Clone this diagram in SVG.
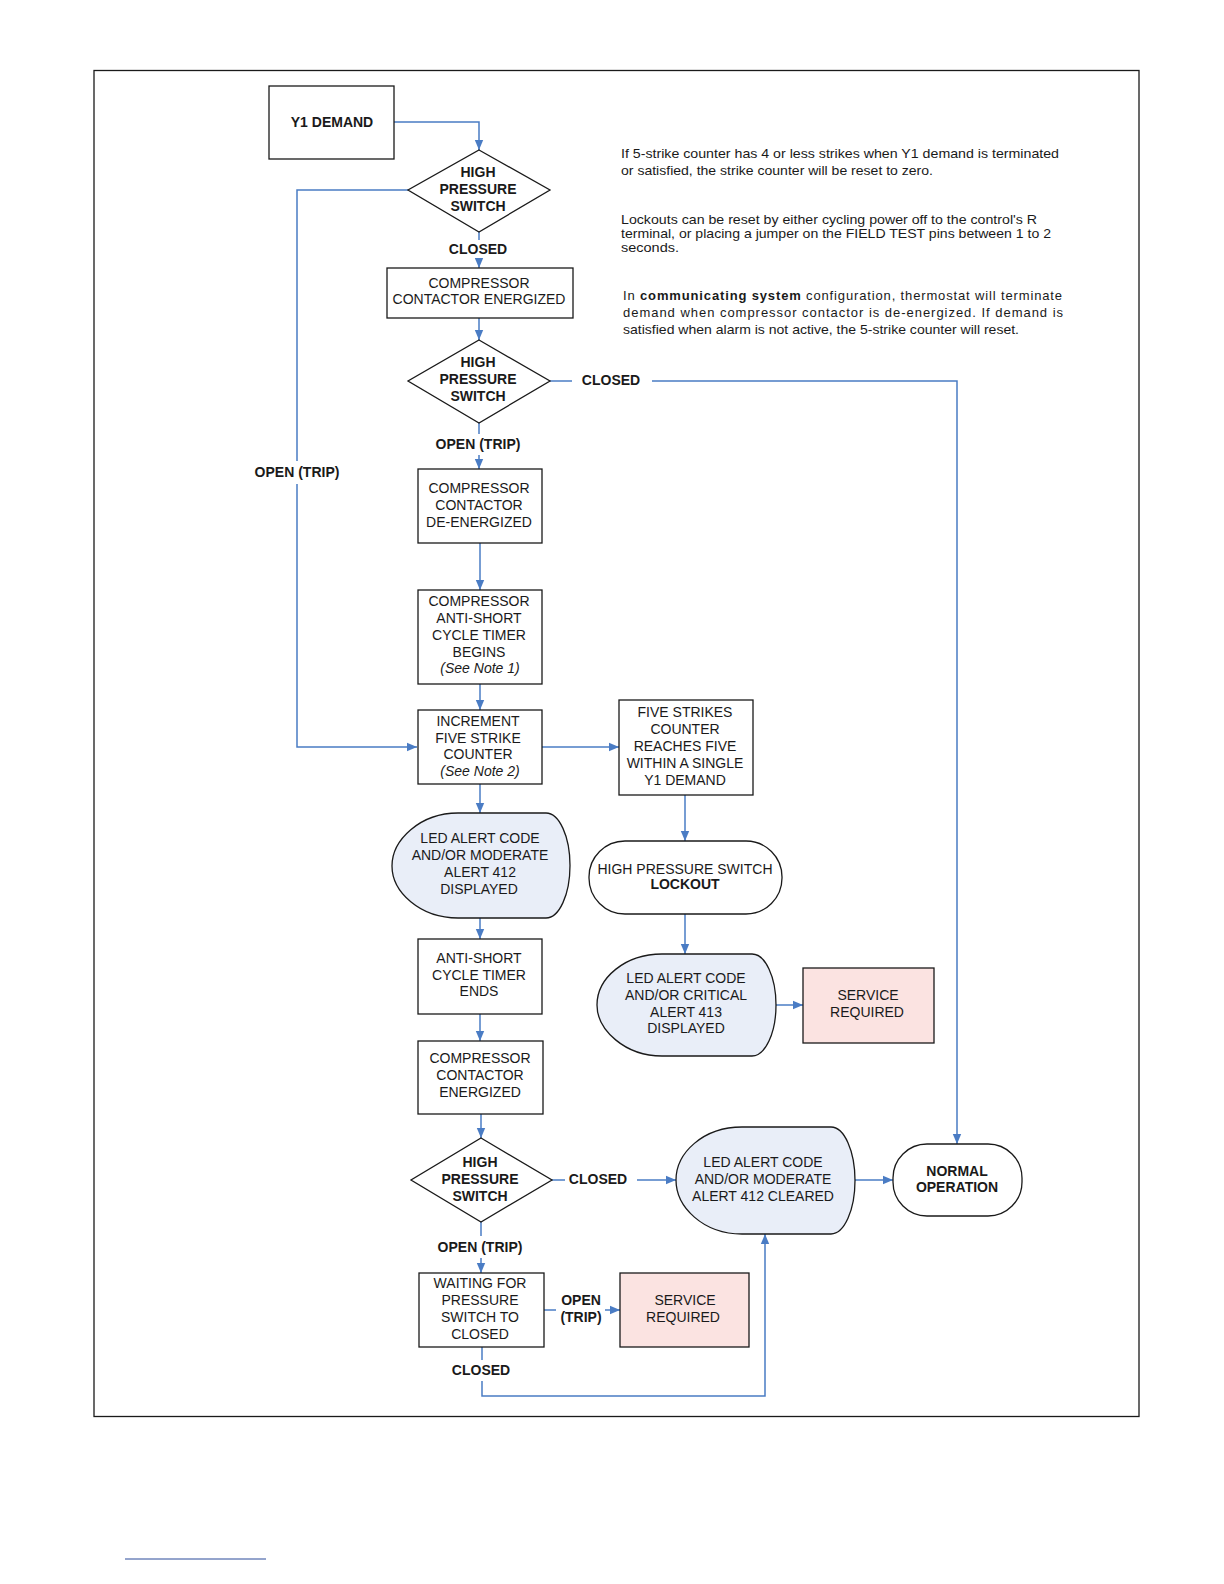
<svg xmlns="http://www.w3.org/2000/svg" width="1224" height="1584" viewBox="0 0 1224 1584">
<defs>
<marker id="ah" markerUnits="userSpaceOnUse" markerWidth="10" markerHeight="10" viewBox="0 0 10 10" refX="10" refY="5" orient="auto">
<path d="M0,0.8 L10,5 L0,9.2 Z" fill="#4a7cc4"/>
</marker>
<style>
.box{fill:#fff;stroke:#1a1a1a;stroke-width:1.3}
.disp{fill:#e9eef8;stroke:#1a1a1a;stroke-width:1.3}
.svc{fill:#fbe3e1;stroke:#1a1a1a;stroke-width:1.3}
.c{fill:none;stroke:#4a7cc4;stroke-width:1.5}
.ca{fill:none;stroke:#4a7cc4;stroke-width:1.5;marker-end:url(#ah)}
text{font-family:"Liberation Sans",Arial,sans-serif;font-size:14px;fill:#1a1a1a;text-anchor:middle}
.b{font-weight:bold}
.i{font-style:italic}
.n{font-size:13px;text-anchor:start}
</style>
</defs>
<rect width="1224" height="1584" fill="#fff"/>
<rect x="94" y="70.5" width="1045" height="1346" fill="none" stroke="#1a1a1a" stroke-width="1.3"/>

<g id="connectors">
<path class="ca" d="M394,122 H479 V150"/>
<path class="c" d="M408,190 H297 V461"/>
<path class="ca" d="M297,484 V747 H417"/>
<path class="c" d="M479,232 V240"/>
<path class="ca" d="M479,259 V268"/>
<path class="ca" d="M479,318 V340"/>
<path class="c" d="M550,381 H572"/>
<path class="ca" d="M652,381 H957 V1144"/>
<path class="c" d="M479,423 V434"/>
<path class="ca" d="M479,455 V469"/>
<path class="ca" d="M480,543 V590"/>
<path class="ca" d="M480,684 V710"/>
<path class="ca" d="M542,747 H619"/>
<path class="ca" d="M685,795 V841"/>
<path class="ca" d="M685,914 V954"/>
<path class="ca" d="M776,1005 H803"/>
<path class="ca" d="M480,784 V813"/>
<path class="ca" d="M480,918 V939"/>
<path class="ca" d="M480,1014 V1041"/>
<path class="ca" d="M481,1114 V1138"/>
<path class="c" d="M552,1180 H565"/>
<path class="ca" d="M637,1180 H676"/>
<path class="ca" d="M855,1180 H893"/>
<path class="c" d="M481,1222 V1236"/>
<path class="ca" d="M481,1258 V1273"/>
<path class="c" d="M544,1310 H556"/>
<path class="ca" d="M605,1310 H620"/>
<path class="c" d="M482,1347 V1360"/>
<path class="ca" d="M482,1381 V1396 H765 V1234"/>
</g>

<g id="y1demand"><rect class="box" x="269" y="86" width="125" height="73"/><text class="b" x="332" y="127">Y1 DEMAND</text></g>

<g id="hps1"><path class="box" d="M479,150 L550,190 L479,232 L408,190 Z"/>
<text class="b" x="478" y="177">HIGH</text><text class="b" x="478" y="194">PRESSURE</text><text class="b" x="478" y="211">SWITCH</text></g>
<g id="lbl-closed1"><text class="b" x="478" y="254">CLOSED</text></g>
<g id="lbl-open-left"><text class="b" x="297" y="477">OPEN (TRIP)</text></g>

<g id="cce1"><rect class="box" x="387" y="268" width="186" height="50"/>
<text x="479" y="288">COMPRESSOR</text><text x="479" y="304">CONTACTOR ENERGIZED</text></g>

<g id="hps2"><path class="box" d="M479,340 L550,381 L479,423 L408,381 Z"/>
<text class="b" x="478" y="367">HIGH</text><text class="b" x="478" y="384">PRESSURE</text><text class="b" x="478" y="401">SWITCH</text></g>
<g id="lbl-closed2"><text class="b" x="611" y="385">CLOSED</text></g>
<g id="lbl-open2"><text class="b" x="478" y="449">OPEN (TRIP)</text></g>

<g id="ccde"><rect class="box" x="418" y="469" width="124" height="74"/>
<text x="479" y="493">COMPRESSOR</text><text x="479" y="510">CONTACTOR</text><text x="479" y="527">DE-ENERGIZED</text></g>

<g id="ascb"><rect class="box" x="418" y="590" width="124" height="94"/>
<text x="479" y="606">COMPRESSOR</text><text x="479" y="623">ANTI-SHORT</text><text x="479" y="640">CYCLE TIMER</text><text x="479" y="657">BEGINS</text><text class="i" x="480" y="673">(See Note 1)</text></g>

<g id="incr"><rect class="box" x="418" y="710" width="124" height="74"/>
<text x="478" y="726">INCREMENT</text><text x="478" y="743">FIVE STRIKE</text><text x="478" y="759">COUNTER</text><text class="i" x="480" y="776">(See Note 2)</text></g>

<g id="five"><rect class="box" x="619" y="700" width="134" height="95"/>
<text x="685" y="717">FIVE STRIKES</text><text x="685" y="734">COUNTER</text><text x="685" y="751">REACHES FIVE</text><text x="685" y="768">WITHIN A SINGLE</text><text x="685" y="785">Y1 DEMAND</text></g>

<g id="lockout"><rect class="box" x="589" y="841" width="193" height="73" rx="36" ry="36"/>
<text x="685" y="874">HIGH PRESSURE SWITCH</text><text class="b" x="685" y="889">LOCKOUT</text></g>

<g id="alert413"><path class="disp" d="M662,954 L752,954 A24,51 0 0 1 752,1056 L662,1056 C625,1056 597,1030 597,1005 C597,978 625,954 662,954 Z"/>
<text x="686" y="983">LED ALERT CODE</text><text x="686" y="1000">AND/OR CRITICAL</text><text x="686" y="1017">ALERT 413</text><text x="686" y="1033">DISPLAYED</text></g>

<g id="svc1"><rect class="svc" x="803" y="968" width="131" height="75"/>
<text x="868" y="1000">SERVICE</text><text x="867" y="1017">REQUIRED</text></g>

<g id="alert412"><path class="disp" d="M458,813 L546,813 A24,52.5 0 0 1 546,918 L458,918 C420,918 392,892 392,866 C392,840 420,813 458,813 Z"/>
<text x="480" y="843">LED ALERT CODE</text><text x="480" y="860">AND/OR MODERATE</text><text x="480" y="877">ALERT 412</text><text x="479" y="894">DISPLAYED</text></g>

<g id="asce"><rect class="box" x="418" y="939" width="124" height="75"/>
<text x="479" y="963">ANTI-SHORT</text><text x="479" y="980">CYCLE TIMER</text><text x="479" y="996">ENDS</text></g>

<g id="cce2"><rect class="box" x="418" y="1041" width="125" height="73"/>
<text x="480" y="1063">COMPRESSOR</text><text x="480" y="1080">CONTACTOR</text><text x="480" y="1097">ENERGIZED</text></g>

<g id="hps3"><path class="box" d="M481,1138 L552,1180 L481,1222 L411,1180 Z"/>
<text class="b" x="480" y="1167">HIGH</text><text class="b" x="480" y="1184">PRESSURE</text><text class="b" x="480" y="1201">SWITCH</text></g>
<g id="lbl-closed3"><text class="b" x="598" y="1184">CLOSED</text></g>
<g id="lbl-open3"><text class="b" x="480" y="1252">OPEN (TRIP)</text></g>

<g id="cleared"><path class="disp" d="M742,1127 L831,1127 A24,53.5 0 0 1 831,1234 L742,1234 C703,1234 676,1207 676,1180 C676,1153 703,1127 742,1127 Z"/>
<text x="763" y="1167">LED ALERT CODE</text><text x="763" y="1184">AND/OR MODERATE</text><text x="763" y="1201">ALERT 412 CLEARED</text></g>

<g id="normal"><rect class="box" x="893" y="1144" width="129" height="72" rx="34" ry="34"/>
<text class="b" x="957" y="1176">NORMAL</text><text class="b" x="957" y="1192">OPERATION</text></g>

<g id="waiting"><rect class="box" x="419" y="1273" width="125" height="74"/>
<text x="480" y="1288">WAITING FOR</text><text x="480" y="1305">PRESSURE</text><text x="480" y="1322">SWITCH TO</text><text x="480" y="1339">CLOSED</text></g>
<g id="lbl-open4"><text class="b" x="581" y="1305">OPEN</text><text class="b" x="581" y="1322">(TRIP)</text></g>

<g id="svc2"><rect class="svc" x="620" y="1273" width="129" height="74"/>
<text x="685" y="1305">SERVICE</text><text x="683" y="1322">REQUIRED</text></g>
<g id="lbl-closed4"><text class="b" x="481" y="1375">CLOSED</text></g>

<g id="notes">
<text class="n" x="621" y="158" textLength="438" lengthAdjust="spacingAndGlyphs">If 5-strike counter has 4 or less strikes when Y1 demand is terminated</text>
<text class="n" x="621" y="175" textLength="312" lengthAdjust="spacingAndGlyphs">or satisfied, the strike counter will be reset to zero.</text>
<text class="n" x="621" y="224" textLength="416" lengthAdjust="spacingAndGlyphs">Lockouts can be reset  by either cycling power off to the control's R</text>
<text class="n" x="621" y="238" textLength="430" lengthAdjust="spacingAndGlyphs">terminal, or placing a jumper on the FIELD TEST pins between 1 to 2</text>
<text class="n" x="621" y="252" textLength="58" lengthAdjust="spacingAndGlyphs">seconds.</text>
<text class="n" x="623" y="300" textLength="439" lengthAdjust="spacing">In <tspan class="b">communicating system</tspan> configuration, thermostat will terminate</text>
<text class="n" x="623" y="317" textLength="440" lengthAdjust="spacing">demand when compressor contactor is de-energized. If demand is</text>
<text class="n" x="623" y="334" textLength="396" lengthAdjust="spacingAndGlyphs">satisfied when alarm is not active, the 5-strike counter will reset.</text>
</g>
<line x1="125" y1="1559" x2="266" y2="1559" stroke="#2a4a9a" stroke-width="1"/>
</svg>
